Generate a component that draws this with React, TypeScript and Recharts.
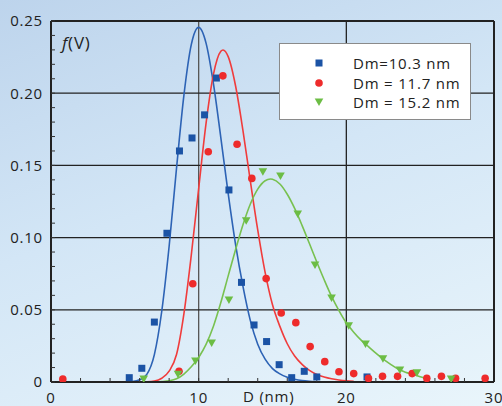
import { ComposedChart, XAxis, YAxis, Line, Scatter, ReferenceLine } from "recharts";

// measured points (D in nm, f(V))
const blueX = [5.3, 6.15, 7.0, 7.85, 8.7, 9.55, 10.4, 11.2, 12.05, 12.9, 13.75, 14.6, 15.45, 16.3, 17.15, 18.0, 21.4];
const blueY = [0.003, 0.0095, 0.0415, 0.103, 0.16, 0.169, 0.185, 0.2105, 0.133, 0.069, 0.0395, 0.028, 0.012, 0.003, 0.0074, 0.0035, 0.0035];

const redX = [0.8, 8.67, 9.6, 10.65, 11.64, 12.6, 13.6, 14.57, 15.59, 16.58, 17.55, 18.54, 19.5, 20.5, 21.5, 22.45, 23.47, 24.46, 25.45, 26.44, 27.4, 29.4];
const redY = [0.002, 0.0074, 0.068, 0.1595, 0.212, 0.1646, 0.141, 0.0716, 0.0478, 0.0411, 0.0245, 0.0141, 0.0071, 0.0058, 0.0025, 0.0039, 0.0039, 0.0058, 0.0025, 0.0039, 0.0025, 0.0025];

const greenX = [6.28, 8.6, 9.78, 10.88, 12.05, 13.22, 14.35, 15.54, 16.71, 17.88, 19.0, 20.16, 21.3, 22.48, 23.63, 24.78, 27.1];
const greenY = [0.002, 0.0053, 0.0145, 0.027, 0.0568, 0.1117, 0.1456, 0.1427, 0.1163, 0.081, 0.0582, 0.039, 0.0263, 0.0161, 0.0083, 0.0064, 0.002];

// fitted curves
const blueFitX = [5.5, 6, 6.5, 7, 7.5, 8, 8.5, 9, 9.5, 10, 10.5, 11, 11.5, 12, 12.5, 13, 13.5, 14, 14.5, 15, 15.5, 16, 16.5, 17, 17.5, 18];
const blueFitY = [0.0003, 0.0015, 0.0055, 0.019, 0.049, 0.094, 0.148, 0.1985, 0.2336, 0.2456, 0.2347, 0.2066, 0.1693, 0.1304, 0.0951, 0.0662, 0.0425, 0.0262, 0.0158, 0.0093, 0.0056, 0.0033, 0.0019, 0.001, 0.0005, 0.0002];

const redFitX = [6, 6.5, 7, 7.5, 8, 8.5, 9, 9.5, 10, 10.5, 11, 11.5, 11.65, 12, 12.5, 13, 13.5, 14, 14.5, 15, 15.5, 16, 16.5, 17, 17.5, 18, 18.5, 19, 19.5, 20, 20.5];
const redFitY = [0, 0.0001, 0.0006, 0.0026, 0.0075, 0.019, 0.0472, 0.0878, 0.134, 0.1791, 0.213, 0.229, 0.2299, 0.2253, 0.205, 0.1741, 0.1391, 0.1053, 0.0759, 0.0535, 0.0385, 0.0265, 0.018, 0.0122, 0.008, 0.0052, 0.0034, 0.0022, 0.0014, 0.0008, 0.0004];

const greenFitX = [6.5, 7, 7.5, 8, 8.5, 9, 9.5, 10, 10.5, 11, 11.5, 12, 12.5, 13, 13.5, 14, 14.5, 14.86, 15, 15.5, 16, 16.5, 17, 17.5, 18, 18.5, 19, 19.5, 20, 20.5, 21, 21.5, 22, 22.5, 23, 23.5, 24, 24.5, 25, 25.5];
const greenFitY = [0, 0.0001, 0.0003, 0.0008, 0.0022, 0.0055, 0.0105, 0.017, 0.026, 0.0386, 0.055, 0.0735, 0.0917, 0.1089, 0.1233, 0.1336, 0.1394, 0.1406, 0.1404, 0.1371, 0.13, 0.1202, 0.1085, 0.0959, 0.0831, 0.0708, 0.0593, 0.0495, 0.041, 0.0345, 0.029, 0.0245, 0.02, 0.0158, 0.0122, 0.009, 0.0068, 0.0053, 0.0037, 0.0022];

const xTicks = [0, 2, 4, 6, 8, 10, 12, 14, 16, 18, 20, 22, 24, 26, 28, 30];
const yTicks = [0, 0.01, 0.02, 0.03, 0.04, 0.05, 0.06, 0.07, 0.08, 0.09, 0.1, 0.11, 0.12, 0.13, 0.14, 0.15, 0.16, 0.17, 0.18, 0.19, 0.2, 0.21, 0.22, 0.23, 0.24, 0.25];
const gridX = [10, 20];
const gridY = [0.05, 0.1, 0.15, 0.2];

const legendLabels = ["Dm=10.3 nm", "Dm = 11.7 nm", "Dm = 15.2 nm"];

const toPoints = (xs: number[], ys: number[]) => xs.map((x, i) => ({ x, y: ys[i] }));

const BLUE = "#1b53a5";
const RED = "#ee2b2b";
const GREEN = "#6cbd45";

const Square = (p: any) => <rect x={p.cx - 3.5} y={p.cy - 3.5} width={7} height={7} fill={BLUE} />;
const Dot = (p: any) => <circle cx={p.cx} cy={p.cy} r={3.8} fill={RED} />;
const Tri = (p: any) => (
  <path d={`M${p.cx - 4.3},${p.cy - 3.5}L${p.cx + 4.3},${p.cy - 3.5}L${p.cx},${p.cy + 4}Z`} fill={GREEN} />
);

const xLabel = (v: number) => (v % 10 === 0 ? String(v) : "");
const yLabel = (v: number) => {
  const k = Math.round(v * 100);
  if (k % 5 !== 0) return "";
  return k === 0 ? "0" : v.toFixed(2);
};

const tickStyle = { fill: "#222", fontSize: 15 };
const frame = { stroke: "#222", strokeWidth: 2 };

const App = () => {
  return (
    <div
      style={{
        position: "fixed",
        left: 0,
        top: 0,
        width: 502,
        height: 406,
        overflow: "hidden",
        background: "linear-gradient(160deg, #bdd4ec 0%, #d3e6f6 45%, #e9f5fb 100%)",
        fontFamily: "'Open Sans', sans-serif",
        letterSpacing: "0.8px",
      }}
    >
      <ComposedChart width={502} height={406} margin={{ top: 20, right: 7, bottom: 0, left: 0 }}>
        <XAxis
          xAxisId="b"
          dataKey="x"
          type="number"
          domain={[0, 30]}
          ticks={xTicks}
          interval={0}
          tickFormatter={xLabel}
          tickSize={-4}
          tickMargin={14}
          tick={tickStyle}
          tickLine={{ stroke: "#333" }}
          axisLine={frame}
          height={24}
          allowDataOverflow
        />
        <XAxis
          xAxisId="t"
          orientation="top"
          type="number"
          domain={[0, 30]}
          ticks={xTicks}
          interval={0}
          tickFormatter={() => ""}
          tickSize={-4}
          tickLine={{ stroke: "#333" }}
          axisLine={frame}
          height={1}
        />
        <YAxis
          yAxisId="l"
          dataKey="y"
          type="number"
          domain={[0, 0.25]}
          ticks={yTicks}
          interval={0}
          tickFormatter={yLabel}
          tickSize={-4}
          tickMargin={12}
          tick={tickStyle}
          tickLine={{ stroke: "#333" }}
          axisLine={frame}
          width={51}
          allowDataOverflow
        />
        <YAxis
          yAxisId="r"
          orientation="right"
          type="number"
          domain={[0, 0.25]}
          ticks={yTicks}
          interval={0}
          tickFormatter={() => ""}
          tickSize={-4}
          tickLine={{ stroke: "#333" }}
          axisLine={frame}
          width={1}
        />
        {gridX.map((v) => (
          <ReferenceLine key={"gx" + v} x={v} xAxisId="b" yAxisId="l" stroke={v === 10 ? "#555" : "#222"} strokeWidth={1.3} />
        ))}
        {gridY.map((v) => (
          <ReferenceLine key={"gy" + v} y={v} xAxisId="b" yAxisId="l" stroke="#222" strokeWidth={1.3} />
        ))}
        <Line xAxisId="b" yAxisId="l" data={toPoints(blueFitX, blueFitY)} dataKey="y" type="monotone" stroke="#2d63b5" strokeWidth={1.6} dot={false} isAnimationActive={false} />
        <Line xAxisId="b" yAxisId="l" data={toPoints(redFitX, redFitY)} dataKey="y" type="monotone" stroke="#f03c3c" strokeWidth={1.6} dot={false} isAnimationActive={false} />
        <Line xAxisId="b" yAxisId="l" data={toPoints(greenFitX, greenFitY)} dataKey="y" type="monotone" stroke="#78c150" strokeWidth={1.6} dot={false} isAnimationActive={false} />
        <Scatter xAxisId="b" yAxisId="l" data={toPoints(blueX, blueY)} dataKey="y" shape={Square} isAnimationActive={false} />
        <Scatter xAxisId="b" yAxisId="l" data={toPoints(redX, redY)} dataKey="y" shape={Dot} isAnimationActive={false} />
        <Scatter xAxisId="b" yAxisId="l" data={toPoints(greenX, greenY)} dataKey="y" shape={Tri} isAnimationActive={false} />
      </ComposedChart>

      <div style={{ position: "absolute", left: 62, top: 31, fontSize: 17, color: "#222" }}>
        <i>f</i>(V)
      </div>
      <div style={{ position: "absolute", left: 243, top: 388, fontSize: 15, color: "#222", lineHeight: "17px" }}>
        D (nm)
      </div>

      <div
        style={{
          position: "absolute",
          left: 279,
          top: 43,
          width: 190,
          height: 75,
          background: "#fff",
          border: "1px solid #8a8a8a",
          fontSize: 15,
          color: "#222",
        }}
      >
        {legendLabels.map((t, i) => (
          <div key={t} style={{ position: "absolute", left: 0, top: 9 + i * 19.5, height: 20, lineHeight: "20px", width: "100%" }}>
            <svg width={14} height={14} style={{ position: "absolute", left: 32, top: 3 }}>
              {i === 0 && <rect x={3.5} y={3.5} width={7} height={7} fill={BLUE} />}
              {i === 1 && <circle cx={7} cy={7} r={3.8} fill={RED} />}
              {i === 2 && <path d="M2.7,3.5L11.3,3.5L7,11Z" fill={GREEN} />}
            </svg>
            <span style={{ position: "absolute", left: 73 }}>{t}</span>
          </div>
        ))}
      </div>
    </div>
  );
};

export default App;
